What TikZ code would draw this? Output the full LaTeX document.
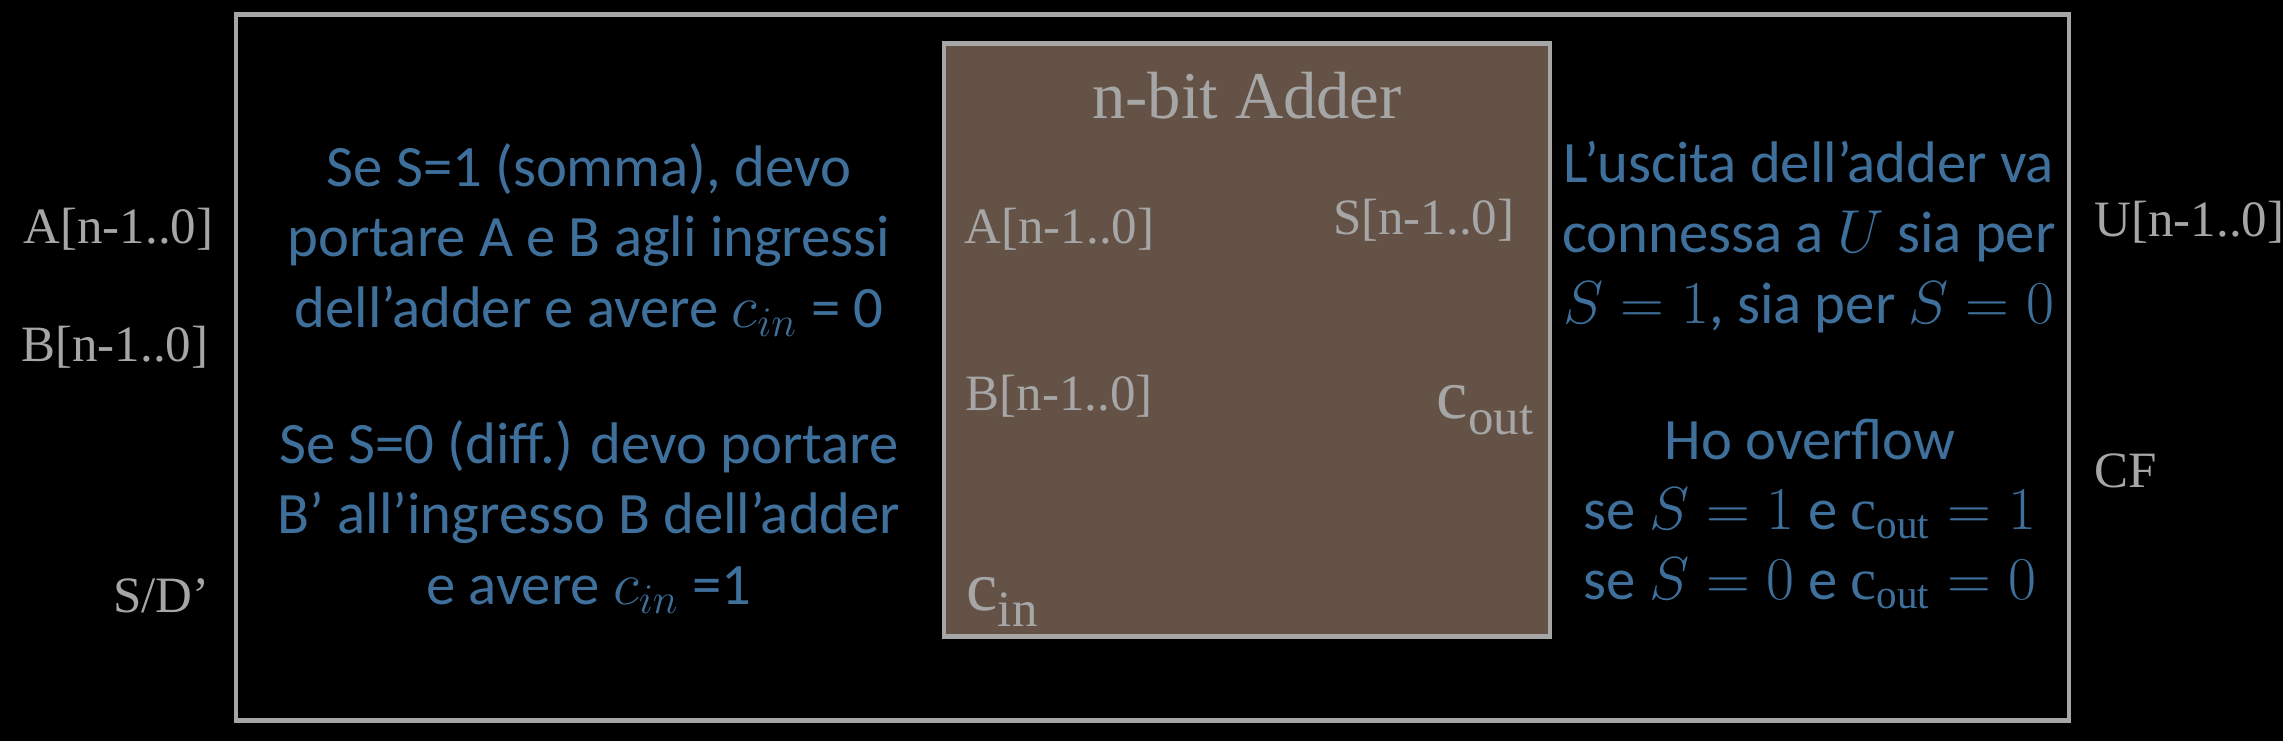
\documentclass[tikz,border=0pt]{standalone}
\usepackage{fontspec}
\setmainfont{Liberation Serif}
\newfontfamily\notefont{Carlito}
\usetikzlibrary{positioning}
\definecolor{framecolor}{RGB}{166,166,166}
\definecolor{addercolor}{RGB}{99, 82, 69}
\definecolor{pincolor}  {RGB}{166,166,166}
\definecolor{notecolor} {RGB}{62, 112, 155}
\newcommand{\carrysub}[1]{c\raisebox{-4.6pt}{\fontsize{14.5}{16}\selectfont #1}}
\tikzset{
	outerblock/.style={
		rectangle, draw=framecolor, line width=1.4pt,
		minimum width=18.33cm, minimum height=7.06cm
	},
	adderblock/.style={
		rectangle, draw=framecolor, fill=addercolor, line width=1.3pt,
		minimum width=6.06cm, minimum height=5.93cm
	},
	pinlabel/.style={
		inner sep=0pt, text=pincolor, font=\fontsize{14.5}{16}\selectfont
	},
	carrylabel/.style={
		inner sep=0pt, text=pincolor, font=\fontsize{20}{22}\selectfont
	},
	notetext/.style={
		inner sep=0pt, align=center, text=notecolor,
		font=\notefont\fontsize{16.7}{20}\selectfont
	}
}
\begin{document}
\begin{tikzpicture}
		\fill[black] (0,0) rectangle (22.83,7.41);
		\useasboundingbox (0,0) rectangle (22.83,7.41);
		%% ═══════════════════════════════
		%%  BLOCKS
		%% ═══════════════════════════════
		\node[outerblock] (circuit) at (11.525,3.732) {};
		\node[adderblock] (adder) at (12.47,4.01) {};
		\node[pinlabel, font=\fontsize{19}{22}\selectfont, anchor=base] (title) at (12.47,6.23) {n-bit Adder};
		
		%% ═══════════════════════════════
		%%  ADDER PINS
		%% ═══════════════════════════════
		\node[pinlabel, anchor=base west] (ina) at (9.64,4.98) {A[n-1..0]};
		\node[pinlabel, anchor=base west] (inb) at (9.65,3.31) {B[n-1..0]};
		\node[carrylabel, anchor=base west] (cin) at (9.66,1.31) {\carrysub{in}};
		\node[pinlabel, anchor=base east] (outs) at (15.15,5.07) {S[n-1..0]};
		\node[carrylabel, anchor=base east] (cout) at (15.34,3.23) {\carrysub{out}};
		
		%% ═══════════════════════════════
		%%  CIRCUIT PINS
		%% ═══════════════════════════════
		\node[pinlabel, anchor=base east] (pina) at (2.14,4.98) {A[n-1..0]};
		\node[pinlabel, anchor=base east] (pinb) at (2.09,3.80) {B[n-1..0]};
		\node[pinlabel, anchor=base east] (pinsd) at (2.10,1.29) {S/D’};
		\node[pinlabel, anchor=base west] (pinu) at (20.94,5.05) {U[n-1..0]};
		\node[pinlabel, anchor=base west] (pincf) at (20.94,2.54) {CF};
		
		%% ═══════════════════════════════
		%%  NOTES
		%% ═══════════════════════════════
		\node[notetext] (notesum) at (5.89,5.01) {Se S=1 (somma), devo\\ portare A e B agli ingressi\\ dell’adder e avere $c_{in}$ = 0};
		\node[notetext] (notediff) at (5.89,2.24) {Se S=0 (diff.) devo portare\\ B’ all’ingresso B dell’adder\\ e avere $c_{in}$ =1};
		\node[notetext] (noteout) at (18.09,5.04) {L’uscita dell’adder va\\ connessa a $U$ sia per\\ $S=1$, sia per $S=0$};
		\node[notetext] (noteovf) at (18.10,2.27) {Ho overflow\\ se $S=1$ e $\mathrm{c}_{\mathrm{out}}=1$\\ se $S=0$ e $\mathrm{c}_{\mathrm{out}}=0$};
		
	\end{tikzpicture}
\end{document}
